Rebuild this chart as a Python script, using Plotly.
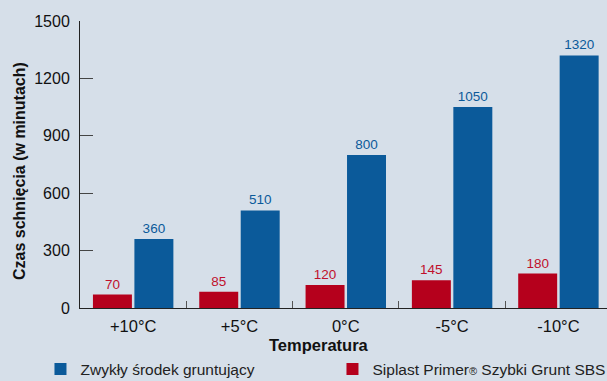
import plotly.graph_objects as go

categories = ["+10°C", "+5°C", "0°C", "-5°C", "-10°C"]
siplast = [70, 85, 120, 145, 180]
zwykly = [360, 510, 800, 1050, 1320]
y_ticks = [0, 300, 600, 900, 1200, 1500]

RED = "#b5001c"
BLUE = "#0b5a9a"
BG = "#d6dfe9"
FONT = "Liberation Sans, Arial, sans-serif"

fig = go.Figure()
fig.add_trace(go.Bar(
    x=categories, y=siplast,
    name='Siplast Primer<span style="font-size:11px">®</span> Szybki Grunt SBS',
    marker=dict(color=RED, line=dict(width=0)),
    text=siplast, textposition="outside", cliponaxis=False,
    textfont=dict(color="#c0102c", size=13.5, family=FONT),
))
fig.add_trace(go.Bar(
    x=categories, y=zwykly, name="Zwykły środek gruntujący",
    marker=dict(color=BLUE, line=dict(width=0)),
    text=zwykly, textposition="outside", cliponaxis=False,
    textfont=dict(color=BLUE, size=13.5, family=FONT),
))

fig.update_layout(
    width=607, height=381,
    margin=dict(l=80, r=0, t=21, b=73, autoexpand=False),
    paper_bgcolor=BG, plot_bgcolor=BG,
    font=dict(family=FONT, size=16, color="#111"),
    barmode="group", bargap=0.22, bargroupgap=0.06,
    showlegend=True,
    legend=dict(
        orientation="h", traceorder="reversed",
        x=-0.075, xanchor="left", y=-0.155, yanchor="top",
        bgcolor="rgba(0,0,0,0)", font=dict(size=15.5, color="#222", family=FONT),
        entrywidth=247, itemwidth=30,
    ),
    xaxis=dict(
        range=[-0.5, 4.457], showgrid=False, showline=True, linecolor="#222", linewidth=1,
        ticks="inside", tickson="boundaries", ticklen=7, tickcolor="#555",
        tickfont=dict(size=16.5), ticklabelstandoff=3,
    ),
    yaxis=dict(
        range=[0, 1500], tickvals=y_ticks, showgrid=False, zeroline=False,
        showline=True, linecolor="#222", linewidth=1,
        ticks="inside", ticklen=13, tickcolor="#444", tickfont=dict(size=16),
        ticklabelstandoff=6,
    ),
    annotations=[
        dict(text="<b>Temperatura</b>", xref="paper", yref="paper",
             x=(319 - 80) / 527, y=-(345 - 308) / 287, xanchor="center", yanchor="middle",
             showarrow=False, font=dict(size=16.5, color="#111")),
        dict(text="<b>Czas schnięcia (w minutach)</b>", xref="paper", yref="paper",
             x=(20 - 80) / 527, y=(308 - 171) / 287, xanchor="center", yanchor="middle",
             textangle=-90, showarrow=False, font=dict(size=16, color="#111")),
    ],
)

fig.write_html("out.html")
